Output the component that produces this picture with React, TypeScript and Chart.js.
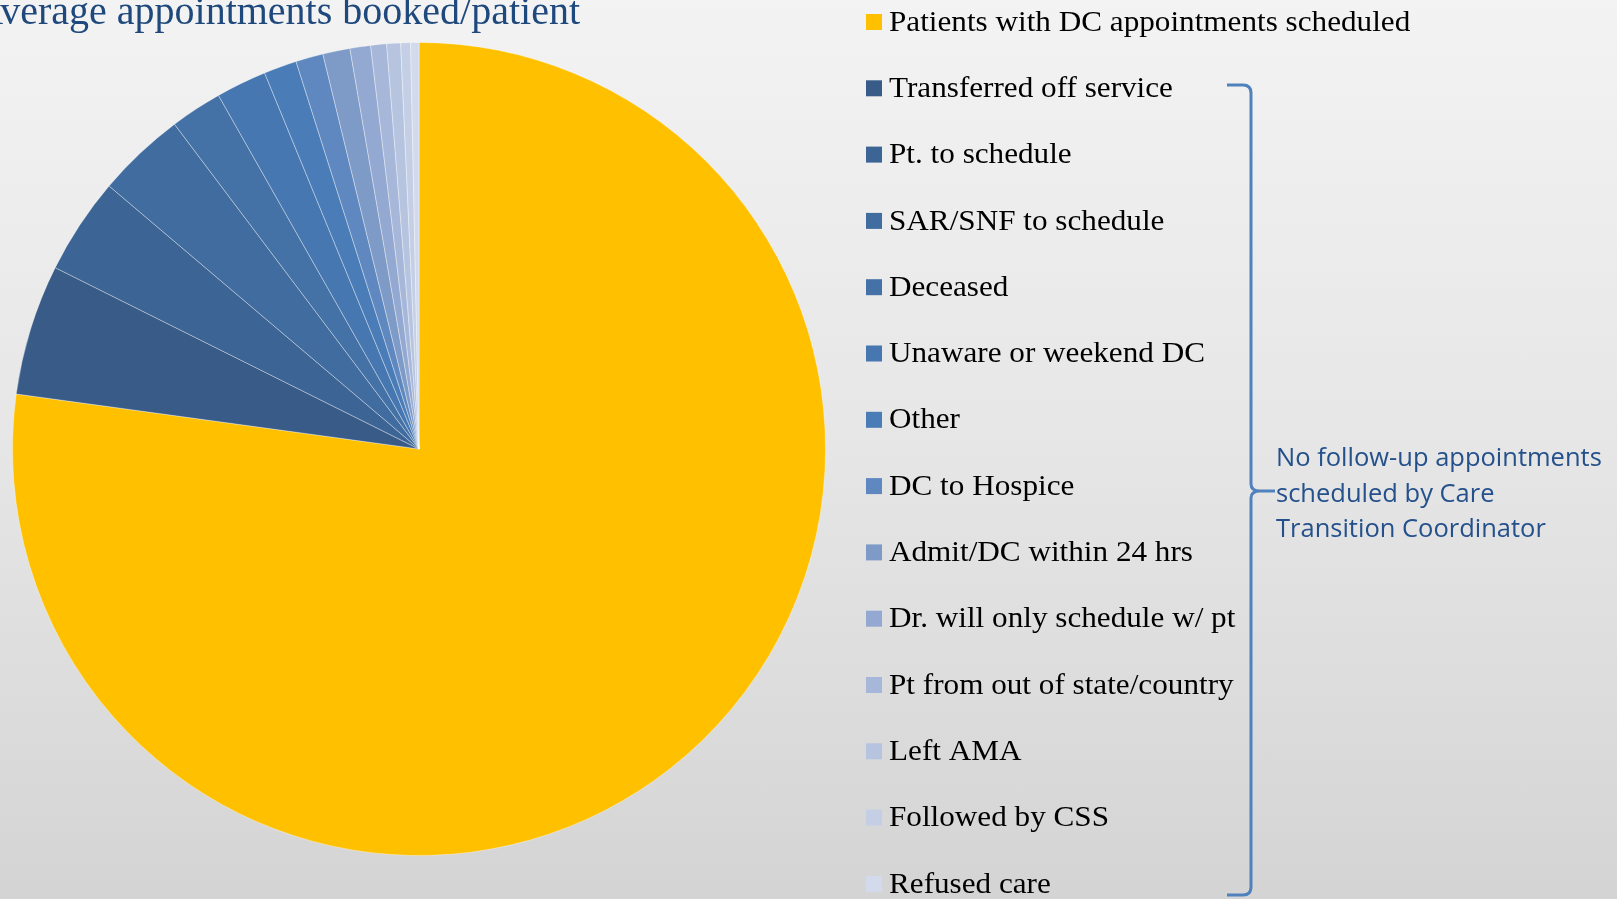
import React, { useEffect, useRef } from "react";
import { Chart, registerables } from "chart.js";

Chart.register(...registerables);

const categories = [
  "Patients with DC appointments scheduled",
  "Transferred off service",
  "Pt. to schedule",
  "SAR/SNF to schedule",
  "Deceased",
  "Unaware or weekend DC",
  "Other",
  "DC to Hospice",
  "Admit/DC within 24 hrs",
  "Dr. will only schedule w/ pt",
  "Pt from out of state/country",
  "Left AMA",
  "Followed by CSS",
  "Refused care",
];

const values = [77.16, 5.2, 3.84, 3.53, 2.06, 2.01, 1.31, 1.09, 1.08, 0.82, 0.63, 0.55, 0.39, 0.33];

const colors = [
  "#FFC000",
  "#385B87",
  "#3C6494",
  "#416C9F",
  "#4472A6",
  "#4777B0",
  "#4A7CB8",
  "#5F88C0",
  "#7E9AC7",
  "#94A9D1",
  "#A6B7D9",
  "#B6C4E0",
  "#C4CFE6",
  "#D2DAEC",
];

const titleText = "Average appointments booked/patient";
const noteLines = ["No follow-up appointments", "scheduled by Care", "Transition Coordinator"];

const W = 1617;
const H = 899;

const overlayPlugin = {
  id: "overlay",
  afterDraw(chart: any) {
    const ctx = chart.ctx as CanvasRenderingContext2D;
    ctx.save();
    // title (clipped at left / top as in the reference)
    ctx.font = "40px 'Liberation Serif'";
    ctx.fillStyle = "#1F497D";
    ctx.textAlign = "right";
    ctx.textBaseline = "alphabetic";
    ctx.fillText(titleText, 580, 24);

    // legend
    const labels: string[] = chart.data.labels;
    const bg: string[] = chart.data.datasets[0].backgroundColor;
    labels.forEach((lab, i) => {
      const y = 22 + i * 66.3;
      ctx.fillStyle = bg[i];
      ctx.fillRect(866, y - 8, 16, 16);
      ctx.save();
      ctx.translate(889, y + 1);
      ctx.scale(1.075, 1);
      ctx.font = "29px 'Liberation Serif'";
      ctx.textAlign = "left";
      ctx.textBaseline = "middle";
      ctx.fillStyle = "#000000";
      ctx.fillText(lab, 0, 0);
      ctx.restore();
    });

    // bracket
    ctx.strokeStyle = "#4F81BD";
    ctx.lineWidth = 3;
    ctx.beginPath();
    ctx.moveTo(1227, 85);
    ctx.lineTo(1243, 85);
    ctx.quadraticCurveTo(1251, 85, 1251, 93);
    ctx.lineTo(1251, 484);
    ctx.quadraticCurveTo(1251, 491, 1260, 491);
    ctx.lineTo(1275, 491);
    ctx.moveTo(1260, 491);
    ctx.quadraticCurveTo(1251, 491, 1251, 498);
    ctx.lineTo(1251, 887);
    ctx.quadraticCurveTo(1251, 895, 1243, 895);
    ctx.lineTo(1227, 895);
    ctx.stroke();

    // note
    ctx.font = "25.5px 'Open Sans'";
    ctx.fillStyle = "#24508C";
    ctx.textAlign = "left";
    ctx.textBaseline = "middle";
    noteLines.forEach((t, i) => {
      ctx.fillText(t, 1276, 459 + i * 35.5);
    });
    ctx.restore();
  },
};

export default function App() {
  const ref = useRef<HTMLCanvasElement | null>(null);
  useEffect(() => {
    if (!ref.current) return;
    const chart = new Chart(ref.current, {
      type: "pie",
      data: {
        labels: categories,
        datasets: [
          {
            data: values,
            backgroundColor: colors,
            borderColor: "rgba(255,255,255,0.35)",
            borderWidth: 1,
          },
        ],
      },
      options: {
        responsive: false,
        animation: false,
        layout: { padding: { left: 12, right: 791, top: 42, bottom: 43 } },
        plugins: {
          legend: { display: false },
          tooltip: { enabled: false },
          title: { display: false },
        },
      },
      plugins: [overlayPlugin],
    });
    return () => chart.destroy();
  }, []);

  return (
    <div
      style={{
        position: "fixed",
        left: 0,
        top: 0,
        width: W,
        height: H,
        overflow: "hidden",
        background: "linear-gradient(to bottom, #f3f3f3 0%, #e6e6e6 50%, #d4d4d4 100%)",
      }}
    >
      <canvas ref={ref} width={W} height={H} style={{ display: "block", width: W, height: H }} />
    </div>
  );
}
